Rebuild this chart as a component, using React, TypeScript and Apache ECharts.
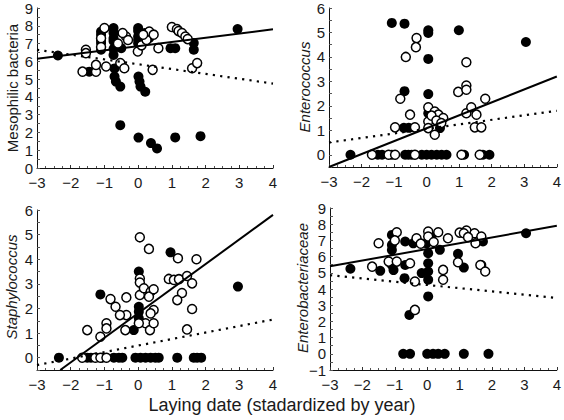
import React, { useEffect, useRef } from "react";
import * as echarts from "echarts";

// ---- Data ----
const xTicks = [-3, -2, -1, 0, 1, 2, 3, 4];

const mesoFilled = [
  [-2.38, 6.33], [-1.45, 5.42], [-1.1, 7.68], [-1.1, 7.5], [-1.1, 7.2], [-1.1, 7.03], [-1.1, 6.65],
  [-0.73, 7.87], [-0.73, 7.6], [-0.73, 7.3], [-0.73, 7.15], [-0.73, 6.7], [-0.73, 6.36], [-0.7, 5.6],
  [-0.7, 5.14], [-0.66, 4.86], [-0.53, 4.58], [-0.53, 2.41], [-0.5, 6.74], [0.0, 7.87], [0.0, 7.7],
  [0.0, 7.4], [0.0, 7.2], [0.0, 7.0], [0.01, 5.14], [0.04, 4.86], [0.07, 4.58], [0.21, 4.29],
  [0.01, 1.71], [0.38, 1.4], [0.56, 1.1], [0.33, 7.31], [0.2, 7.6], [0.96, 6.74], [1.1, 6.74],
  [1.65, 7.03], [1.65, 6.65], [1.1, 1.72], [1.85, 1.79], [2.95, 7.82],
];
const mesoOpen = [
  [-1.65, 5.42], [-1.55, 6.65], [-1.55, 6.46], [-1.25, 5.42], [-1.25, 5.8], [-0.95, 5.71], [-1.0, 7.87],
  [-1.1, 7.3], [-1.1, 6.8], [-0.53, 5.9], [-0.41, 5.61], [-0.36, 7.4], [-0.3, 7.2], [-0.46, 7.59],
  [-0.6, 7.0], [0.43, 5.52], [0.6, 6.74], [0.33, 7.68], [0.46, 7.5], [-0.01, 6.55], [0.1, 6.9],
  [0.25, 7.2], [0.15, 7.5], [1.0, 7.93], [1.15, 7.82], [1.2, 7.7], [1.3, 7.59], [1.4, 7.4],
  [1.47, 7.25], [1.6, 5.61], [1.75, 5.9],
];
const mesoSolid = [[-3, 6.15], [4, 7.8]];
const mesoDotted = [[-3, 6.65], [4, 4.75]];

const enteroFilled = [
  [-2.34, 0], [-1.5, 0], [-1.37, 0], [-1.07, 0], [-0.66, 0], [-0.56, 0], [-0.46, 0], [-0.15, 0], [0, 0],
  [0.15, 0], [0.31, 0], [0.46, 0], [0.61, 0], [1.15, 0], [1.73, 0], [1.93, 0],
  [-1.07, 5.39], [-0.68, 5.36], [-0.68, 2.6], [-0.7, 1.1], [-0.55, 1.1], [0.05, 5.09], [0.05, 4.98],
  [0.05, 3.92], [0.05, 2.48], [0.05, 1.7], [0.41, 1.09], [0.99, 5.09], [3.05, 4.61],
];
const enteroOpen = [
  [-1.68, 0], [-1.17, 0], [-0.97, 0], [-0.36, 0], [1.07, 0], [1.63, 0],
  [-0.31, 4.77], [-0.64, 4.0], [-0.33, 4.4], [-0.81, 2.29], [-0.51, 1.64], [-0.97, 1.12], [-0.36, 1.12],
  [0.05, 1.94], [0.05, 1.36], [0.05, 1.09], [0.25, 1.77], [0.36, 1.64], [0.51, 1.5], [0.25, 0.82],
  [0.15, 1.6], [0.3, 1.4], [0.45, 1.3], [0.97, 2.57], [1.22, 3.78], [1.22, 2.83], [1.22, 2.66],
  [1.22, 1.7], [1.37, 1.94], [1.53, 1.64], [1.48, 1.12], [1.68, 1.12], [1.8, 2.29],
];
const enteroSolid = [[-3, -0.5], [4, 3.2]];
const enteroDotted = [[-3, 0.5], [4, 1.8]];

const staphFilled = [
  [-2.35, 0], [-1.51, 0], [-1.4, 0], [-1.07, 0], [-0.72, 0], [-0.57, 0], [-0.47, 0], [-0.08, 0], [0.07, 0],
  [0.22, 0], [0.37, 0], [0.51, 0], [0.61, 0], [1.16, 0], [1.65, 0], [1.75, 0], [1.87, 0],
  [-1.12, 2.57], [-0.13, 1.12], [0.02, 3.5], [0.02, 2.07], [0.02, 1.87], [0.02, 1.6], [0.96, 4.28],
  [2.96, 2.89],
];
const staphOpen = [
  [-1.66, 0], [-1.27, 0], [-1.12, 0], [-0.94, 0],
  [0.05, 4.89], [0.32, 4.42], [1.73, 4.0], [1.18, 4.04], [0.91, 3.2], [1.06, 3.16], [1.21, 3.19],
  [1.45, 3.32], [1.6, 3.02], [1.3, 2.63], [1.16, 2.34], [1.6, 1.98], [1.45, 1.15], [0.05, 3.22],
  [0.05, 3.05], [0.05, 2.55], [0.17, 2.82], [0.37, 2.68], [0.32, 2.48], [0.46, 2.78], [0.46, 1.94],
  [0.37, 1.8], [0.22, 1.4], [0.35, 1.12], [0.46, 1.4], [0.02, 1.4], [-0.35, 2.45], [-0.35, 1.73],
  [-0.54, 1.73], [-0.67, 2.07], [-0.82, 2.38], [-0.94, 1.4], [-0.94, 1.19], [-1.12, 0.85],
  [-1.51, 1.12], [-0.38, 1.12],
];
const staphSolid = [[-2.31, -0.5], [4, 5.8]];
const staphDotted = [[-3, -0.3], [4, 1.55]];

const enterobFilled = [
  [-0.74, 0], [-0.53, 0], [0, 0], [0.18, 0], [0.34, 0], [0.54, 0], [1.13, 0], [1.89, 0],
  [-2.37, 5.25], [-1.45, 5.12], [-1.09, 7.34], [-1.09, 6.72], [-1.09, 6.4], [-1.09, 5.48], [-1.04, 5.17],
  [-0.68, 6.93], [-0.68, 5.48], [-0.7, 4.67], [-0.55, 2.4], [-0.43, 6.82], [-0.17, 4.98], [-0.02, 6.82],
  [0.03, 6.21], [0.03, 5.59], [0.03, 5.08], [0.03, 4.57], [0.03, 3.54], [0.13, 7.24], [0.39, 6.42],
  [0.95, 6.17], [1.13, 5.32], [1.72, 6.93], [1.67, 5.48], [3.05, 7.44],
];
const enterobOpen = [
  [-1.5, 6.82], [-1.7, 5.38], [-1.19, 5.69], [-0.94, 5.69], [-0.94, 7.5], [-1.0, 7.0], [-0.53, 5.59],
  [-0.38, 4.46], [-0.38, 2.71], [-0.33, 7.13], [0.03, 7.55], [0.03, 7.24], [0.34, 7.5], [0.64, 7.13],
  [0.49, 5.18], [0.49, 4.57], [0.95, 5.65], [1.0, 7.48], [1.21, 7.61], [1.13, 7.44], [1.46, 7.44],
  [1.67, 7.24], [1.49, 6.82], [1.64, 5.48], [1.79, 5.08], [1.26, 7.2], [0.2, 6.9], [-0.2, 6.8],
];
const enterobSolid = [[-3, 5.4], [4, 7.9]];
const enterobDotted = [[-3, 4.85], [4, 3.45]];

const panelTitles = ["Mesophilic bacteria", "Enterococcus", "Staphylococcus", "Enterobacteriaceae"];
const yRanges = [
  [0, 9],
  [-0.5, 6],
  [-0.5, 6],
  [-1, 9],
];
const xTitle = "Laying date (stadardized by year)";

const FONT = "'Liberation Sans', Arial, sans-serif";
const TEXT = "#1a1a1a";

export default function App() {
  const ref = useRef<HTMLDivElement>(null);

  useEffect(() => {
    if (!ref.current) return;
    const chart = echarts.init(ref.current, null, { renderer: "svg" });

    const grids = [
      { left: 37, top: 8, width: 236, height: 160 },
      { left: 329, top: 8, width: 229, height: 159 },
      { left: 37, top: 210, width: 236, height: 160 },
      { left: 330, top: 208, width: 228, height: 162 },
    ];
    const fmt = (v: number) => String(v).replace("-", "\u2212");

    const xAxes = grids.map((_, i) => ({
      type: "value",
      gridIndex: i,
      min: xTicks[0],
      max: xTicks[xTicks.length - 1],
      interval: 1,
      axisLine: { show: true, onZero: false, lineStyle: { color: "#111", width: 1 } },
      axisTick: { show: true, inside: true, length: 3, lineStyle: { color: "#333" } },
      minorTick: { show: true, splitNumber: 4, length: 2, lineStyle: { color: "#555" } },
      splitLine: { show: false },
      axisLabel: {
        margin: 7,
        fontSize: 15,
        fontFamily: FONT,
        color: TEXT,
        formatter: (v: number) => fmt(v),
      },
    }));

    const yAxes = grids.map((_, i) => ({
      type: "value",
      gridIndex: i,
      min: yRanges[i][0],
      max: yRanges[i][1],
      interval: 0.5,
      axisLine: { show: true, onZero: false, lineStyle: { color: "#111", width: 1 } },
      axisTick: { show: true, inside: true, length: 3, lineStyle: { color: "#555" } },
      splitLine: { show: false },
      axisLabel: {
        margin: 4,
        fontSize: 15,
        fontFamily: FONT,
        color: TEXT,
        formatter: (v: number) => (Math.abs(v - Math.round(v)) < 1e-6 ? fmt(Math.round(v)) : ""),
      },
    }));

    const sets = [
      [mesoFilled, mesoOpen, mesoSolid, mesoDotted],
      [enteroFilled, enteroOpen, enteroSolid, enteroDotted],
      [staphFilled, staphOpen, staphSolid, staphDotted],
      [enterobFilled, enterobOpen, enterobSolid, enterobDotted],
    ];

    const series: any[] = [];
    sets.forEach((s, i) => {
      series.push({
        type: "scatter",
        xAxisIndex: i,
        yAxisIndex: i,
        data: s[0],
        symbol: "circle",
        symbolSize: 10,
        itemStyle: { color: "#000", opacity: 1 },
        z: 2,
      });
      series.push({
        type: "scatter",
        xAxisIndex: i,
        yAxisIndex: i,
        data: s[1],
        symbol: "circle",
        symbolSize: 9,
        itemStyle: { color: "#fff", borderColor: "#000", borderWidth: 1.5, opacity: 1 },
        z: 3,
      });
      series.push({
        type: "line",
        xAxisIndex: i,
        yAxisIndex: i,
        data: s[2],
        symbol: "none",
        lineStyle: { color: "#000", width: 2 },
        z: 4,
      });
      series.push({
        type: "line",
        xAxisIndex: i,
        yAxisIndex: i,
        data: s[3],
        symbol: "none",
        lineStyle: { color: "#000", width: 2.2, type: [2.2, 5.2] },
        z: 4,
      });
    });

    const titlePos = [
      [12, 88, false],
      [304, 87, true],
      [11, 287, true],
      [302, 288, true],
    ];

    const graphic: any[] = titlePos.map((p, i) => ({
      type: "text",
      x: p[0] as number,
      y: p[1] as number,
      rotation: Math.PI / 2,
      style: {
        text: panelTitles[i],
        font: `${p[2] ? "italic " : ""}15px ${FONT}`,
        fill: TEXT,
        textAlign: "center",
        textVerticalAlign: "middle",
      },
    }));
    graphic.push({
      type: "text",
      x: 282,
      y: 405,
      style: {
        text: xTitle,
        font: `18px ${FONT}`,
        fill: TEXT,
        textAlign: "center",
        textVerticalAlign: "middle",
      },
    });

    chart.setOption({
      animation: false,
      backgroundColor: "#fff",
      grid: grids,
      xAxis: xAxes,
      yAxis: yAxes,
      series,
      graphic,
    });

    return () => chart.dispose();
  }, []);

  return (
    <div
      ref={ref}
      style={{ position: "fixed", left: 0, top: 0, width: 564, height: 420, background: "#fff" }}
    />
  );
}
